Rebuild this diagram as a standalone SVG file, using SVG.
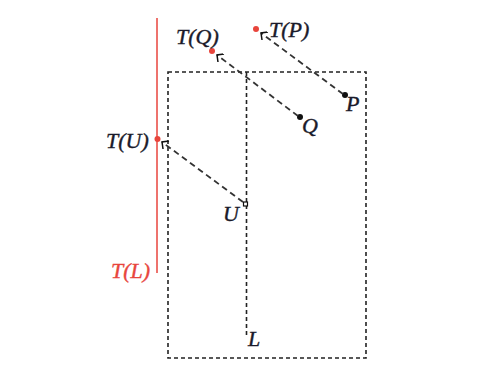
<svg xmlns="http://www.w3.org/2000/svg" width="502" height="373" viewBox="0 0 502 373">
<defs>
<style>
.lbl{font-family:"Liberation Serif","Times New Roman",serif;font-style:italic;font-size:22px;fill:#1a1a2a;stroke:#1a1a2a;stroke-width:0.4}
.red{fill:#e8453c;stroke:#e8453c}
.box{fill:none;stroke:#222;stroke-width:1.6;stroke-dasharray:4 3}
.arr{fill:none;stroke:#333;stroke-width:1.8;stroke-dasharray:6 4}
</style>
<marker id="ah" viewBox="0 0 10 10" refX="9" refY="5" markerWidth="10" markerHeight="10" markerUnits="userSpaceOnUse" orient="auto">
<path d="M4,0 L9,5 L4,10" fill="none" stroke="#111" stroke-width="1.5"/>
</marker>
</defs>
<rect width="502" height="373" fill="#fff"/>
<g id="region">
<rect class="box" x="168" y="72" width="198" height="286"/>
</g>
<g id="L">
<line class="box" x1="246.5" y1="72" x2="246.5" y2="337"/>
<text class="lbl" x="248" y="346">L</text>
</g>
<g id="TL">
<line x1="157" y1="18" x2="157" y2="273" stroke="#e8453c" stroke-width="1.5"/>
<text class="lbl red" x="111" y="278">T(L)</text>
</g>
<g id="P">
<circle cx="345" cy="95" r="3" fill="#111"/>
<text class="lbl" x="346" y="111">P</text>
</g>
<g id="TP">
<circle cx="256" cy="29" r="3" fill="#e8453c"/>
<text class="lbl" x="269" y="37">T(P)</text>
</g>
<g id="Q">
<circle cx="300" cy="117" r="3" fill="#111"/>
<text class="lbl" x="302" y="133">Q</text>
</g>
<g id="TQ">
<circle cx="212" cy="51" r="3" fill="#e8453c"/>
<text class="lbl" x="176" y="44">T(Q)</text>
</g>
<g id="U">
<rect x="243.5" y="202" width="4" height="4" fill="#fff" stroke="#111" stroke-width="1.2"/>
<text class="lbl" x="223" y="221">U</text>
</g>
<g id="TU">
<circle cx="157.5" cy="139" r="3" fill="#e8453c"/>
<text class="lbl" x="106" y="148">T(U)</text>
</g>
<g id="connectors">
<line class="arr" x1="343" y1="94" x2="261" y2="33" marker-end="url(#ah)"/>
<line class="arr" x1="298" y1="116" x2="217" y2="55" marker-end="url(#ah)"/>
<line class="arr" x1="243" y1="202" x2="162" y2="142" marker-end="url(#ah)"/>
</g>
</svg>
